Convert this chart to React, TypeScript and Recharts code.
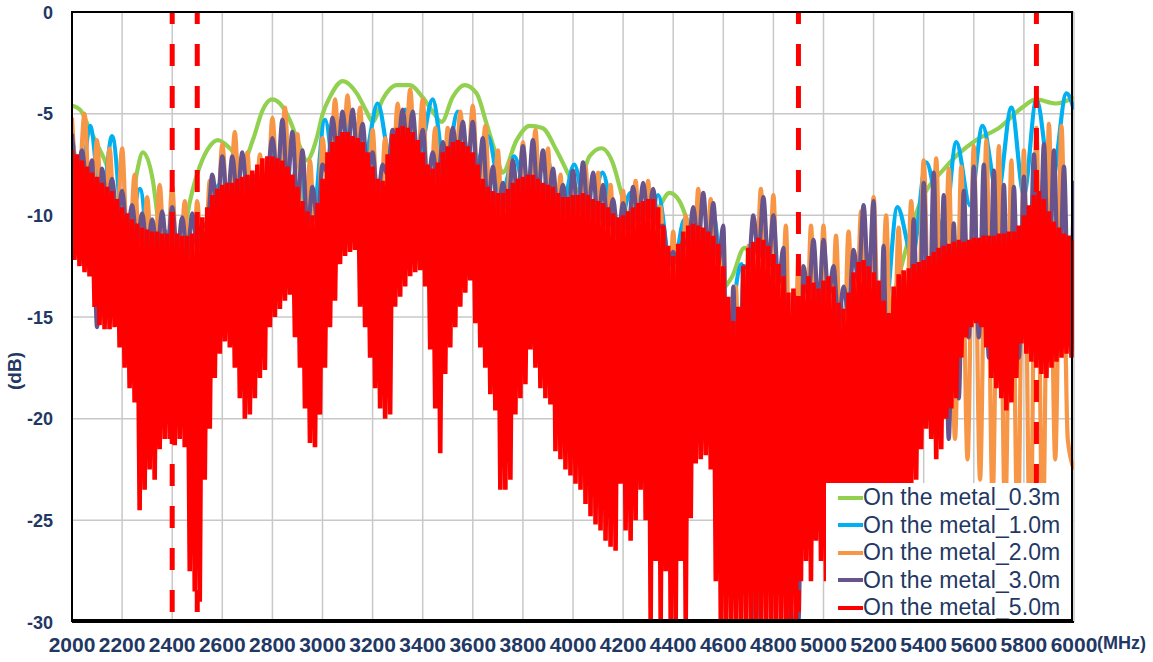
import { LineChart, Line, XAxis, YAxis, CartesianGrid, ReferenceLine, Legend } from "recharts";

const W = 1153;
const H = 662;
const NAVY = "#1F3864";
const NARROW = "'Liberation Sans Narrow', 'Arial Narrow', 'Liberation Sans', sans-serif";
const SANS = "'Liberation Sans', Arial, sans-serif";

// axis ticks
const freqTicks = [2000, 2200, 2400, 2600, 2800, 3000, 3200, 3400, 3600, 3800, 4000, 4200, 4400, 4600, 4800, 5000, 5200, 5400, 5600, 5800, 6000];
const dbTicks = [-30, -25, -20, -15, -10, -5, 0];

// band edges marked with dashed red lines (MHz)
const markerFreqs = [2400, 2500, 4900, 5850];

const seriesNames = ["On the metal_0.3m", "On the metal_1.0m", "On the metal_2.0m", "On the metal_3.0m", "On the metal_5.0m"];
const seriesColors = ["#92D050", "#00B0F0", "#F79646", "#67548D", "#FF0000"];

// 0.3m - smooth lobes
const greenFreq = [
  2000, 2032, 2072, 2112, 2140, 2183, 2211, 2259, 2283, 2323,
  2339, 2371, 2431, 2471, 2510, 2550, 2582, 2630, 2682, 2722,
  2762, 2798, 2830, 2869, 2909, 2937, 2977, 3001, 3029, 3081,
  3137, 3176, 3200, 3240, 3296, 3348, 3400, 3440, 3476, 3519,
  3567, 3615, 3655, 3695, 3719, 3775, 3827, 3878, 3934, 3986,
  4014, 4066, 4114, 4158, 4197, 4265, 4345, 4385, 4425, 4452,
  4544, 4636, 4684, 4724, 4824, 4983, 5095, 5222, 5322, 5370,
  5490, 5610, 5701, 5793, 5848, 5928, 6000,
];
const greenDb = [
  -4.6, -4.8, -5.8, -6.8, -7.6, -10.5, -12.5, -7.9, -6.9, -8.3,
  -9.8, -13, -12, -9.3, -7.6, -6.6, -6.3, -6.7, -7.4, -6.3,
  -4.8, -4.3, -4.5, -5.3, -6.6, -7.3, -6.2, -5.0, -4.2, -3.4,
  -4.0, -4.9, -5.4, -4.3, -3.6, -3.6, -4.2, -4.9, -5.4, -4.2,
  -3.6, -4.0, -5.5, -7.1, -7.9, -6.3, -5.6, -5.7, -6.8, -8.1,
  -8.8, -7.1, -6.7, -7.4, -9.1, -12, -9.6, -8.9, -9.3, -10.1,
  -14, -13.0, -11.6, -12.5, -16, -17, -26, -17, -12, -9.9,
  -7.6, -6.3, -5.7, -4.7, -4.3, -4.5, -4.2,
];

// 1.0m - lobes roughly every 110 MHz
const blueFreq = [
  2000, 2035, 2072, 2118, 2160, 2215, 2271, 2325, 2375, 2430,
  2480, 2535, 2585, 2640, 2690, 2745, 2795, 2850, 2900, 2955,
  3010, 3060, 3115, 3170, 3220, 3275, 3330, 3385, 3440, 3490,
  3540, 3600, 3660, 3715, 3765, 3830, 3890, 3950, 4005, 4060,
  4118, 4175, 4230, 4285, 4340, 4395, 4445, 4500, 4560, 4615,
  4672, 4730, 4780, 4885, 4960, 5010, 5063, 5120, 5180, 5240,
  5295, 5355, 5410, 5480, 5530, 5585, 5635, 5695, 5750, 5800,
  5850, 5910, 5970, 6000,
];
const blueDb = [
  -6.0, -8.5, -5.6, -9.5, -6.1, -12, -8.7, -14, -10.8, -15,
  -11.0, -14, -8.5, -12, -8.5, -12, -7.0, -11, -7.5, -11,
  -5.3, -9, -5.2, -7, -4.5, -7.5, -4.8, -7, -4.3, -7.8,
  -4.9, -8, -6.1, -9, -7.1, -10, -7.0, -10, -7.5, -10.5,
  -7.9, -11, -8.9, -12, -9.0, -13, -10.2, -14, -10.0, -16,
  -12.4, -30, -11.5, -30, -13.5, -22, -14.0, -22, -12.0, -15.5,
  -9.6, -12, -7.4, -11, -6.4, -9.5, -5.6, -9, -4.7, -9,
  -4.3, -8.5, -4.0, -4.8,
];

// 2.0m - lobe tops every 50 MHz from 2000, nulls in between
const ORANGE_STEP = 50;
const orangePeaks = [
  -5.2, -5.0, -6.3, -6.7, -6.7, -8.0, -9.1, -8.5, -8.6, -9.3,
  -9.3, -8.3, -6.5, -5.9, -6.9, -7.0, -5.2, -4.7, -6.0, -7.3,
  -6.2, -4.3, -4.1, -4.7, -5.8, -6.2, -4.5, -3.8, -4.3, -5.7,
  -5.7, -4.9, -4.6, -5.6, -6.8, -7.3, -6.4, -5.8, -6.7, -8.0,
  -8.1, -7.6, -7.9, -8.5, -8.8, -8.3, -8.3, -9.6, -10.8, -10.0,
  -8.7, -9.2, -10.8, -13.5, -11.5, -8.7, -9.0, -10.5, -12.0, -10.5,
  -10.5, -11.0, -10.8, -9.8, -9.1, -10.0, -10.6, -9.3, -7.3, -7.2,
  -7.7, -7.6, -6.6, -6.3, -6.6, -7.3, -6.8, -5.7, -5.5, -5.6,
  -22.5,
];
const orangeDips = [
  -9, -11, -12, -12, -13, -14, -14, -14, -15, -16,
  -15, -12, -11, -12, -13, -11, -10, -11, -13, -13,
  -10, -9, -9, -11, -12, -10, -9, -9, -11, -12,
  -10, -9, -10, -12, -13, -12, -11, -12, -14, -15,
  -14, -14, -15, -16, -15, -15, -17, -19, -18, -16,
  -16, -19, -28, -27, -17, -17, -20, -28, -22, -20,
  -21, -21, -19, -18, -19, -21, -20, -17, -18, -20,
  -21, -22, -23, -24, -25, -26, -27, -26, -22, -21,
];

// 3.0m - lobe tops every 40 MHz from 2000
const PURPLE_STEP = 40;
const purplePeaks = [
  -6.0, -6.8, -7.3, -7.7, -8.2, -8.8, -9.5, -9.9, -10.2, -9.8,
  -9.6, -10.1, -9.9, -10.4, -8.0, -7.1, -7.1, -6.9, -8.0, -8.6,
  -6.2, -5.3, -5.9, -6.8, -8.6, -7.5, -5.2, -4.9, -4.8, -5.5,
  -6.9, -7.5, -5.8, -4.8, -4.9, -5.8, -6.9, -6.4, -5.7, -5.4,
  -5.4, -6.2, -7.6, -8.4, -7.3, -6.6, -6.3, -6.8, -7.7, -8.5,
  -7.8, -7.4, -7.9, -8.5, -9.2, -9.4, -8.6, -8.4, -8.7, -10.5,
  -11.8, -11.2, -9.6, -8.9, -9.4, -10.5, -13.5, -12.5, -10.0, -9.1,
  -10.0, -11.6, -13.8, -12.5, -11.2, -11.2, -12.5, -13.5, -11.7, -9.5,
  -9.3, -11.5, -14.5, -13.0, -10.2, -8.4, -7.9, -9.0, -10.4, -8.8,
  -7.6, -7.5, -7.8, -8.5, -8.6, -8.1, -7.0, -6.5, -6.8, -7.6,
  -8.3,
];
const purpleDips = [
  -8.0, -8.6, -15.5, -9.6, -10.2, -10.9, -11.4, -11.7, -11.8, -11.9,
  -11.9, -12.0, -11.6, -10.6, -9.7, -9.4, -9.2, -9.0, -8.5, -8.1,
  -8.2, -8.6, -9.6, -10.8, -10.4, -7.9, -7.1, -6.9, -7.2, -7.9,
  -9.2, -8.0, -6.7, -6.7, -7.3, -8.5, -8.4, -7.6, -7.3, -7.6,
  -8.5, -9.6, -9.9, -9.7, -9.2, -9.0, -9.2, -9.5, -9.9, -10.1,
  -10.0, -10.0, -10.3, -10.6, -11.1, -10.8, -10.4, -10.2, -10.6, -12.5,
  -12.4, -11.5, -11.5, -11.8, -12.4, -27, -26, -12.6, -12.1, -12.5,
  -13.4, -30, -30, -14.0, -14.6, -14.0, -15.3, -14.8, -13.3, -13.5,
  -23, -27, -25, -21, -18, -17, -19, -21, -19, -16,
  -16, -17, -18, -18, -17, -15, -14, -14, -15, -16,
];

// 5.0m - dense ripple: tops every 20 MHz from 2000, bottoms halfway between
const RED_STEP = 20;
const redPeaks = [
  -6.8, -7.0, -7.3, -7.6, -7.9, -8.1, -8.4, -8.6, -8.8, -9.2,
  -9.6, -9.9, -10.2, -10.4, -10.6, -10.7, -10.8, -10.8, -10.9, -10.9,
  -10.8, -10.9, -11.0, -11.0, -10.9, -10.6, -10.1, -9.6, -9.0, -8.7,
  -8.5, -8.4, -8.4, -8.2, -8.1, -8.0, -7.8, -7.5, -7.2, -7.1,
  -7.1, -7.2, -7.3, -7.6, -8.0, -8.6, -9.3, -9.8, -10.0, -9.4,
  -8.2, -6.9, -6.4, -6.1, -5.9, -5.9, -6.1, -6.2, -6.4, -6.9,
  -7.6, -8.2, -8.3, -7.0, -6.0, -5.7, -5.6, -5.7, -5.9, -6.3,
  -6.9, -7.5, -7.7, -7.4, -6.9, -6.6, -6.4, -6.3, -6.4, -6.6,
  -6.9, -7.5, -8.2, -8.6, -8.8, -8.9, -8.9, -8.7, -8.4, -8.2,
  -8.1, -8.0, -8.0, -8.2, -8.4, -8.5, -8.6, -8.9, -9.1, -9.1,
  -9.0, -9.0, -8.9, -9.0, -9.2, -9.3, -9.4, -9.6, -9.9, -10.1,
  -10.0, -9.8, -9.6, -9.4, -9.3, -9.2, -9.2, -9.6, -10.5, -11.5,
  -12.0, -11.4, -10.8, -10.5, -10.4, -10.5, -10.6, -10.8, -11.0, -11.4,
  -12.5, -14.0, -15.2, -14.5, -12.5, -11.6, -11.3, -11.1, -11.2, -11.5,
  -11.9, -12.4, -13.0, -13.8, -13.6, -14.2, -13.4, -13.0, -13.3, -13.6,
  -13.2, -13.0, -13.5, -14.3, -14.6, -13.8, -12.8, -12.3, -12.2, -12.5,
  -12.8, -13.2, -14.2, -14.8, -13.5, -12.9, -12.7, -12.6, -12.4, -12.3,
  -12.2, -12.0, -11.8, -11.6, -11.5, -11.4, -11.3, -11.2, -11.3, -11.2,
  -11.1, -11.1, -11.0, -11.0, -11.0, -10.9, -10.9, -10.8, -10.8, -10.5,
  -10.0, -9.5, -9.0, -8.8, -9.2, -9.8, -10.3, -10.6, -10.9, -11.0,
  -11.2,
];
const redDips = [
  -12.2, -12.5, -12.8, -13.0, -14.5, -15.4, -15.6, -15.6, -15.5, -16.5,
  -17.5, -18.5, -19.2, -24.5, -23.5, -22.5, -23.0, -21.5, -21.0, -21.0,
  -21.3, -21.0, -21.4, -27.5, -28.5, -29.0, -23.0, -20.5, -18.0, -16.8,
  -16.2, -16.5, -17.5, -19.0, -20.0, -19.8, -19.0, -18.0, -17.6, -15.5,
  -15.0, -14.6, -14.2, -13.9, -16.0, -17.5, -19.5, -21.2, -21.4, -19.8,
  -17.5, -15.5, -14.2, -12.4, -12.0, -11.8, -11.7, -14.5, -15.5, -17.0,
  -18.5, -19.5, -20.0, -19.8, -14.5, -14.0, -13.5, -13.0, -12.8, -12.7,
  -13.5, -16.6, -19.5, -21.7, -17.8, -16.5, -15.5, -14.5, -13.8, -13.2,
  -15.3, -16.5, -17.5, -18.8, -19.6, -23.5, -23.5, -23.0, -19.8, -19.0,
  -18.3, -16.6, -17.5, -18.5, -19.0, -19.3, -21.6, -22.0, -22.5, -22.8,
  -23.2, -23.5, -24.2, -24.8, -25.2, -25.5, -26.0, -26.3, -26.5, -23.2,
  -25.5, -26.0, -25.0, -23.5, -25.0, -30, -27.0, -30, -27.5, -30,
  -30, -27.0, -30, -24.9, -22.2, -22.0, -21.8, -22.5, -28.0, -30,
  -30, -30, -30, -30, -30, -30, -30, -30, -30, -30,
  -30, -30, -30, -30, -30, -28, -27, -28, -26, -27,
  -28, -30, -30, -30, -30, -28, -30, -27, -28, -26,
  -27, -25, -26, -24.5, -25, -24, -24.5, -23.5, -23.0, -21.5,
  -20.5, -21.0, -22.0, -21.5, -20.0, -19.5, -19.0, -17.0, -16.0, -15.5,
  -15.3, -15.5, -16.5, -18.0, -18.5, -19.0, -19.6, -19.2, -18.0, -16.3,
  -16.8, -17.2, -17.5, -17.8, -18.0, -17.5, -17.2, -17.0, -16.8, -17.0,
];

type Pt = { f: number; v: number };

const pairs = (freqs: number[], vals: number[]): Pt[] => freqs.map((f, i) => ({ f, v: vals[i] }));

// tops at start + i*step, bottoms half a step later
const ripple = (start: number, step: number, tops: number[], bottoms: number[]): Pt[] => {
  const rows: Pt[] = [];
  tops.forEach((v, i) => {
    rows.push({ f: start + i * step, v });
    if (i < bottoms.length) rows.push({ f: start + i * step + step / 2, v: bottoms[i] });
  });
  return rows;
};

const greenData = pairs(greenFreq, greenDb);
const blueData = pairs(blueFreq, blueDb);
const orangeData = ripple(2000, ORANGE_STEP, orangePeaks, orangeDips);
const purpleData = ripple(2000, PURPLE_STEP, purplePeaks, purpleDips);
const redData = ripple(2000, RED_STEP, redPeaks, redDips);

const XTick = ({ x, y, payload }: any) => (
  <text x={x} y={y + 22} textAnchor="middle" fill={NAVY} fontFamily={NARROW} fontWeight={700} fontSize={21}>
    {payload.value}
  </text>
);

const YTick = ({ x, y, payload }: any) => (
  <text x={x - 11} y={y} dy={6.5} textAnchor="end" fill={NAVY} fontFamily={SANS} fontWeight={700} fontSize={18}>
    {payload.value}
  </text>
);

const LegendBox = () => (
  <div style={{ paddingTop: 1 }}>
    {seriesNames.map((name, i) => (
      <div key={name} style={{ display: "flex", alignItems: "center", height: 27.5 }}>
        <span style={{ display: "inline-block", marginLeft: 12, width: 25, height: 4, background: seriesColors[i] }} />
        <span style={{ fontFamily: SANS, fontSize: 23, color: NAVY, lineHeight: "25px", letterSpacing: 0.1 }}>{name}</span>
      </div>
    ))}
  </div>
);

export default function App() {
  const seriesData = [greenData, blueData, orangeData, purpleData, redData];
  return (
    <div style={{ position: "absolute", left: 0, top: 0, width: W, height: H, background: "#fff" }}>
      <LineChart width={W} height={H} margin={{ top: 12, right: 79, bottom: 0, left: 0 }}>
        <CartesianGrid stroke="#C8C8C8" strokeWidth={1.5} />
        <XAxis
          dataKey="f"
          type="number"
          domain={[2000, 6000]}
          ticks={freqTicks}
          allowDataOverflow
          height={40}
          tickLine={false}
          axisLine={{ stroke: "#000", strokeWidth: 2 }}
          tick={XTick}
          interval={0}
        />
        <YAxis
          type="number"
          domain={[-30, 0]}
          ticks={dbTicks}
          allowDataOverflow
          width={72}
          tickLine={false}
          axisLine={{ stroke: "#000", strokeWidth: 2 }}
          tick={YTick}
          interval={0}
        />
        {seriesNames.map((name, i) => (
          <Line
            key={name}
            name={name}
            data={seriesData[i]}
            dataKey="v"
            type={i === 4 ? "linear" : "monotone"}
            stroke={seriesColors[i]}
            strokeWidth={i === 4 ? 4.6 : 4.2}
            dot={false}
            activeDot={false}
            isAnimationActive={false}
          />
        ))}
        {markerFreqs.map((f) => (
          <ReferenceLine key={f} x={f} stroke="#FF0000" strokeWidth={5} strokeDasharray="0 10 22 10" />
        ))}
        <Legend
          layout="horizontal"
          verticalAlign="middle"
          align="center"
          content={LegendBox}
          wrapperStyle={{ left: 826, top: 483, width: 247, height: 138, background: "#fff" }}
        />
      </LineChart>
      <div
        style={{
          position: "absolute",
          left: 71,
          top: 11,
          width: 1002,
          height: 610,
          border: "2px solid #000",
          boxSizing: "border-box",
          pointerEvents: "none",
        }}
      />
      <div
        style={{
          position: "absolute",
          left: 15,
          top: 371,
          transform: "translate(-50%, -50%) rotate(-90deg)",
          fontFamily: SANS,
          fontWeight: 700,
          fontSize: 19,
          color: NAVY,
          whiteSpace: "nowrap",
        }}
      >
        (dB)
      </div>
      <div
        style={{
          position: "absolute",
          left: 1097,
          top: 633,
          fontFamily: SANS,
          fontWeight: 700,
          fontSize: 18,
          color: NAVY,
          whiteSpace: "nowrap",
        }}
      >
        (MHz)
      </div>
    </div>
  );
}
